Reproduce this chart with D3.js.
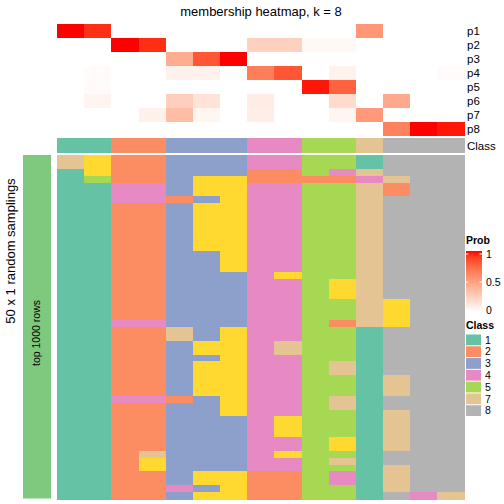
<!DOCTYPE html>
<html><head><meta charset="utf-8">
<script src="https://cdn.jsdelivr.net/npm/d3@7"></script>
<style>body{margin:0;background:#fff} text{font-family:"Liberation Sans",Arial,Helvetica,sans-serif;fill:#000}</style>
</head><body><svg id="c" width="504" height="504"></svg>
<script>
// ---- data ----
const samples = ["s1","s2","s3","s4","s5","s6","s7","s8","s9","s10","s11","s12","s13","s14","s15"];
const sampleClass = [1,1,2,2,3,3,3,4,4,5,5,7,8,8,8];
const probNames = ["p1","p2","p3","p4","p5","p6","p7","p8"];
const p1 = [1.00,0.94,0,0,0,0,0,0,0,0,0,0.54,0,0,0];
const p2 = [0,0,1.00,0.94,0,0,0,0.25,0.25,0.04,0.04,0,0,0,0];
const p3 = [0,0,0,0,0.43,0.82,1.00,0,0,0,0,0,0,0,0];
const p4 = [0,0.02,0,0,0.07,0.07,0,0.66,0.82,0,0.07,0,0,0,0.02];
const p5 = [0,0.02,0,0,0,0,0,0,0,0.98,0.78,0,0,0,0];
const p6 = [0,0.06,0,0,0.26,0.15,0,0.10,0,0,0.19,0,0.45,0,0];
const p7 = [0,0,0,0.07,0.35,0.05,0,0.09,0,0,0.05,0.53,0,0,0];
const p8 = [0,0,0,0,0,0,0,0,0,0,0,0,0.64,1.00,0.98];
const probs = [p1,p2,p3,p4,p5,p6,p7,p8];
const classLevels = [1,2,3,4,5,6,7,8];
const classColors = ["#66C2A5","#FC8D62","#8DA0CB","#E78AC3","#A6D854","#FFD92F","#E5C494","#B3B3B3"];
const legendClasses = [1,2,3,4,5,7,8];
const probTicks = [0,0.5,1];
// class assigned in each of the 50 samplings, one array per sample (column)
const s1  = [7,7,1,1,1,1,1,1,1,1, 1,1,1,1,1,1,1,1,1,1, 1,1,1,1,1,1,1,1,1,1, 1,1,1,1,1,1,1,1,1,1, 1,1,1,1,1,1,1,1,1,1];
const s2  = [6,6,6,5,1,1,1,1,1,1, 1,1,1,1,1,1,1,1,1,1, 1,1,1,1,1,1,1,1,1,1, 1,1,1,1,1,1,1,1,1,1, 1,1,1,1,1,1,1,1,1,1];
const s3  = [2,2,2,2,4,4,4,2,2,2, 2,2,2,2,2,2,2,2,2,2, 2,2,2,2,4,2,2,2,2,2, 2,2,2,2,2,4,2,2,2,2, 2,2,2,2,2,2,2,2,2,2];
const s4  = [2,2,2,2,4,4,4,2,2,2, 2,2,2,2,2,2,2,2,2,2, 2,2,2,2,4,2,2,2,2,2, 2,2,2,2,2,4,2,2,2,2, 2,2,2,7,6,6,2,2,2,2];
const s5  = [3,3,3,3,3,3,2,3,3,3, 3,3,3,3,3,3,3,3,3,3, 3,3,3,3,3,7,7,3,3,3, 3,3,3,3,3,2,3,3,3,3, 3,3,3,3,3,3,3,3,4,3];
const s6  = [3,3,3,6,6,6,3,6,6,6, 6,6,6,6,3,3,3,3,3,3, 3,3,3,3,3,3,3,6,6,3, 6,6,6,6,6,3,3,3,3,3, 3,3,3,3,3,3,6,6,3,6];
const s7  = [3,3,3,6,6,6,6,6,6,6, 6,6,6,6,6,6,6,3,3,3, 3,3,3,3,3,6,6,6,6,6, 6,6,6,6,6,6,6,6,3,3, 3,3,3,3,3,3,6,6,6,6];
const s8  = [4,4,2,2,4,4,4,4,4,4, 4,4,4,4,4,4,4,4,4,4, 4,4,4,4,4,4,4,4,4,4, 4,4,4,4,4,4,4,4,4,4, 4,4,4,4,4,4,2,2,2,2];
const s9  = [4,4,2,2,4,4,4,4,4,4, 4,4,4,4,4,4,4,6,4,4, 4,4,4,4,4,4,4,7,7,4, 4,4,4,4,4,4,4,4,6,6, 6,4,4,6,4,4,2,2,2,2];
const s10 = [5,5,5,2,5,5,5,5,5,5, 5,5,5,5,5,5,5,5,5,5, 5,5,5,5,5,5,5,5,5,5, 5,5,5,5,5,5,5,5,5,5, 5,5,5,5,5,5,5,5,5,5];
const s11 = [5,5,4,2,5,5,5,5,5,5, 5,5,5,5,5,5,5,5,6,6, 6,5,5,5,2,5,5,5,5,5, 7,7,5,5,5,7,7,5,5,5, 5,6,6,5,7,5,4,4,5,5];
const s12 = [1,1,7,4,7,7,7,7,7,7, 7,7,7,7,7,7,7,7,7,7, 7,7,7,7,7,1,1,1,1,1, 1,1,1,1,1,1,1,1,1,1, 1,1,1,1,1,1,1,1,1,1];
const s13 = [8,8,8,7,2,2,8,8,8,8, 8,8,8,8,8,8,8,8,8,8, 8,6,6,6,6,8,8,8,8,8, 8,8,7,7,7,8,8,7,7,7, 7,7,7,8,8,7,7,7,7,8];
const s14 = [8,8,8,8,8,8,8,8,8,8, 8,8,8,8,8,8,8,8,8,8, 8,8,8,8,8,8,8,8,8,8, 8,8,8,8,8,8,8,8,8,8, 8,8,8,8,8,8,8,8,8,4];
const s15 = [8,8,8,8,8,8,8,8,8,8, 8,8,8,8,8,8,8,8,8,8, 8,8,8,8,8,8,8,8,8,8, 8,8,8,8,8,8,8,8,8,8, 8,8,8,8,8,8,8,8,8,7];
const membership = [s1,s2,s3,s4,s5,s6,s7,s8,s9,s10,s11,s12,s13,s14,s15];
const samplingIds = d3.range(1, 51);

// ---- drawing ----
const svg = d3.select("#c");
const x = d3.scaleBand().domain(samples).range([57, 464.5]);
const yP = d3.scaleBand().domain(probNames).range([24, 136]);
const yB = d3.scaleBand().domain(samplingIds).range([155, 499]);
const cls = d3.scaleOrdinal(classLevels, classColors);
const pc = d3.scaleLinear().domain([0, 1]).range(["#ffffff", "#ff0000"]).interpolate(d3.interpolateLab);

svg.append("text").attr("x", 261).attr("y", 16).attr("text-anchor", "middle")
  .style("font-size", "13px").text("membership heatmap, k = 8");

// probability rows
const gp = svg.append("g").attr("shape-rendering", "crispEdges");
probNames.forEach((pn, i) => {
  gp.selectAll(null).data(probs[i]).join("rect")
    .attr("x", (d, j) => x(samples[j])).attr("y", yP(pn))
    .attr("width", x.bandwidth() + 0.5).attr("height", yP.bandwidth() + 0.3)
    .attr("fill", d => pc(d));
  svg.append("text").attr("x", 467).attr("y", yP(pn) + yP.bandwidth() / 2)
    .attr("dy", "0.36em").style("font-size", "11.5px").text(pn);
});
// class row
gp.selectAll(null).data(sampleClass).join("rect")
  .attr("x", (d, j) => x(samples[j])).attr("y", 138)
  .attr("width", x.bandwidth() + 0.5).attr("height", 14.5)
  .attr("fill", d => cls(d));
svg.append("text").attr("x", 467).attr("y", 145.5).attr("dy", "0.36em")
  .style("font-size", "11.5px").text("Class");

// body
const gb = svg.append("g").attr("shape-rendering", "crispEdges");
membership.forEach((col, j) => {
  gb.selectAll(null).data(col).join("rect")
    .attr("x", x(samples[j])).attr("y", (d, i) => yB(samplingIds[i]))
    .attr("width", x.bandwidth() + 0.5).attr("height", yB.bandwidth() + 0.5)
    .attr("fill", d => cls(d));
});

// left annotation
svg.append("rect").attr("x", 23).attr("y", 155).attr("width", 28).attr("height", 343.5)
  .attr("fill", "#7FC97F");
svg.append("text").attr("transform", "translate(36.5,333) rotate(-90)")
  .attr("text-anchor", "middle").attr("dy", "0.35em").style("font-size", "10.5px").text("top 1000 rows");
svg.append("text").attr("transform", "translate(10,251) rotate(-90)")
  .attr("text-anchor", "middle").attr("dy", "0.35em").style("font-size", "13px").text("50 x 1 random samplings");

// Prob legend
svg.append("text").attr("x", 466).attr("y", 243.5).style("font-size", "10.5px").style("font-weight", "bold").text("Prob");
const defs = svg.append("defs");
const lg = defs.append("linearGradient").attr("id", "pg").attr("x1", 0).attr("x2", 0).attr("y1", 1).attr("y2", 0);
d3.range(0, 1.0001, 0.1).forEach(t => lg.append("stop").attr("offset", t).attr("stop-color", pc(t)));
const yL = d3.scaleLinear().domain([0, 1]).range([310, 254]);
svg.append("rect").attr("x", 466).attr("y", 251).attr("width", 16).attr("height", 61).attr("fill", "url(#pg)");
probTicks.forEach(t => {
  svg.append("line").attr("x1", 466).attr("x2", 468.5).attr("y1", yL(t)).attr("y2", yL(t)).attr("stroke", "#fff");
  svg.append("line").attr("x1", 479.5).attr("x2", 482).attr("y1", yL(t)).attr("y2", yL(t)).attr("stroke", "#fff");
  svg.append("text").attr("x", 486).attr("y", yL(t)).attr("dy", "0.36em").style("font-size", "10.5px").text(t);
});

// Class legend
svg.append("text").attr("x", 466).attr("y", 329).style("font-size", "10.5px").style("font-weight", "bold").text("Class");
const yC = d3.scaleBand().domain(legendClasses).range([334, 416.5]);
svg.selectAll(null).data(legendClasses).join("rect")
  .attr("x", 466).attr("y", d => yC(d) + 0.5).attr("width", 15).attr("height", yC.bandwidth() - 1)
  .attr("fill", d => cls(d));
svg.selectAll(null).data(legendClasses).join("text")
  .attr("x", 485).attr("y", d => yC(d) + yC.bandwidth() / 2).attr("dy", "0.36em")
  .style("font-size", "10.5px").text(d => d);
</script></body></html>
